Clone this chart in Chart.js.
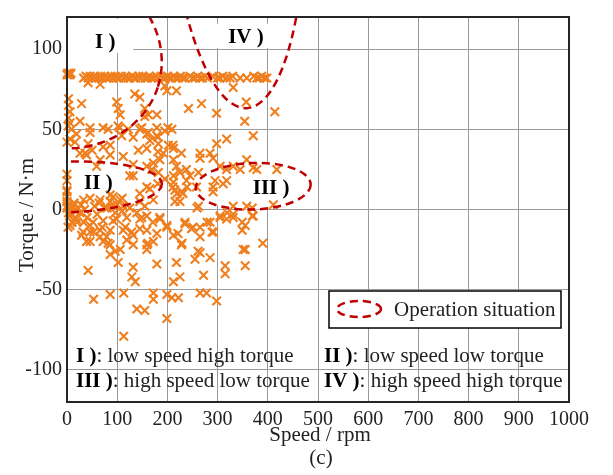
<!DOCTYPE html>
<html>
<head>
<meta charset="utf-8">
<script src="https://cdn.jsdelivr.net/npm/chart.js"></script>
<style>
  html, body { margin: 0; padding: 0; background: #fff; }
  #chart { display: block; }
</style>
</head>
<body>
<canvas id="chart" width="613" height="475"></canvas>
<script>
// Axis ticks
const speedTicks = [0, 100, 200, 300, 400, 500, 600, 700, 800, 900, 1000];
const torqueTicks = [-100, -50, 0, 50, 100];

// Measured points [speed rpm, torque N·m], split by band
const rowPoints = [
  [0, 84], [1, 85], [3, 84], [4, 85], [6, 84], [8, 85],
  [33, 82], [38, 83], [42, 82], [46, 83], [50, 82], [55, 83], [58, 82], [63, 82], [67, 83], [71, 82], [75, 83], [79, 82],
  [83, 82], [88, 83], [92, 82], [96, 83], [100, 82], [104, 82], [108, 83], [113, 82], [117, 83], [121, 82], [125, 82],
  [130, 83], [134, 82], [138, 82], [143, 83], [147, 82], [151, 83], [156, 82], [160, 82], [164, 83], [168, 82], [173, 82],
  [178, 83], [182, 82], [187, 83], [191, 82], [195, 82], [200, 83], [204, 82], [208, 82], [213, 83], [217, 82], [222, 82],
  [226, 83], [230, 82], [235, 82], [245, 83], [250, 82], [255, 82], [260, 83], [265, 82], [270, 82], [275, 83], [280, 82],
  [290, 83], [300, 82], [305, 82], [310, 83], [318, 82], [325, 82], [330, 83], [345, 82], [358, 82], [372, 83], [378, 82],
  [383, 82], [388, 83], [393, 82], [398, 82]
];
const upperPoints = [
  [42, 79], [66, 78], [195, 77], [199, 74], [218, 74], [331, 76], [135, 72], [145, 70], [3, 69], [3, 65], [29, 66],
  [99, 67], [102, 63], [106, 59], [268, 66], [357, 67], [242, 63], [298, 60], [414, 61], [354, 55], [155, 63], [162, 59],
  [179, 59], [155, 58], [6, 61], [3, 57], [6, 54], [26, 55], [9, 50], [2, 52], [19, 47], [46, 51], [46, 48], [72, 51],
  [82, 50], [102, 52], [105, 51], [109, 46], [122, 50], [132, 45], [145, 50], [149, 51], [159, 47], [162, 48], [179, 51],
  [181, 45], [195, 49], [201, 51], [209, 50], [179, 46], [182, 41], [165, 43], [202, 40], [211, 40], [371, 46], [318, 44],
  [298, 41], [0, 42], [6, 44], [16, 42], [42, 41], [26, 35], [36, 35], [39, 34], [50, 37], [72, 39], [86, 40], [86, 34],
  [112, 33], [142, 37], [159, 38], [181, 36], [192, 35], [212, 38], [228, 35], [265, 35], [285, 35], [265, 32], [291, 32],
  [66, 31], [59, 27], [132, 28], [159, 27], [172, 29], [185, 31], [169, 25], [182, 23], [212, 31], [218, 27], [225, 23],
  [212, 21], [238, 25], [245, 21], [262, 23], [305, 27], [318, 25], [331, 27], [345, 25], [358, 31], [371, 26], [378, 25],
  [418, 25], [132, 21], [125, 21], [195, 19], [0, 22]
];
const middlePoints = [
  [295, 18], [318, 18], [291, 14], [258, 14], [238, 18], [212, 17], [228, 11], [215, 12], [225, 5], [0, 18], [0, 12],
  [0, 11], [0, 8], [0, 5], [0, 2], [0, 1], [3, 3], [8, 0], [12, 2], [14, 4], [18, -1], [22, 1], [28, 3], [33, 6], [35, 0],
  [46, 7], [55, 2], [64, 4], [66, 6], [76, 1], [80, 1], [86, 9], [86, 5], [92, 8], [92, 3], [100, 3], [106, 6], [110, 7],
  [112, 2], [110, -1], [125, 1], [145, 10], [145, 5], [155, 2], [159, 14], [165, 13], [172, 6], [181, 16], [211, 14],
  [219, 10], [215, 5], [239, 14], [231, 10], [259, 1], [262, 2], [291, 11], [311, 16], [331, 2], [358, 2], [369, 1], [411, 3],
  [6, -2], [3, -2], [26, -2], [16, -5], [5, -4], [40, -5], [19, -6], [33, -8], [10, -8], [20, -8], [52, -8], [60, -3],
  [72, -7], [92, -7], [96, -2], [99, -6], [119, -5], [139, -2], [149, -5], [145, -6], [159, -4], [171, -8], [185, -5],
  [185, -6], [199, -10], [235, -8], [235, -9], [279, -8], [285, -8], [305, -4], [305, -5], [318, -6], [319, -2], [331, -3],
  [331, -5], [349, -8], [369, -4], [371, -4], [6, -10], [46, -10], [2, -11]
];
const lowerPoints = [
  [32, -14], [46, -14], [53, -14], [29, -16], [66, -13], [70, -11], [66, -17], [79, -17], [39, -20], [46, -20], [72, -20],
  [82, -21], [86, -13], [86, -22], [86, -28], [96, -26], [102, -33], [106, -25], [112, -13], [116, -11], [119, -19],
  [129, -14], [132, -16], [132, -22], [145, -12], [159, -13], [159, -22], [159, -25], [161, -21], [172, -20], [179, -15],
  [179, -34], [199, -11], [212, -16], [218, -33], [221, -15], [228, -22], [229, -21], [248, -12], [251, -11], [255, -31],
  [261, -26], [265, -11], [265, -17], [265, -27], [272, -41], [285, -30], [289, -14], [292, -14], [315, -35], [315, -40],
  [349, -13], [351, -25], [355, -10], [355, -25], [355, -35], [390, -21], [225, -42], [212, -45], [199, -53], [209, -55],
  [222, -55], [172, -52], [172, -56], [132, -36], [129, -42], [136, -45], [42, -38], [53, -56], [86, -53], [113, -52],
  [139, -62], [155, -63], [199, -68], [113, -79], [265, -52], [278, -52], [298, -57]
];

// Operation situation regions (centre, half-widths in data units, tilt in degrees)
const regions = [
  { name: 'I )', speed: -18, torque: 96.4, dSpeed: 209, dTorque: 57.6, tilt: 18, filled: false,
    labelAt: [56, 100.4], box: [0, 132, 97.6, 118.8] },
  { name: 'II )', speed: 0, torque: 14, dSpeed: 189, dTorque: 15.8, tilt: -2, filled: true,
    labelAt: [34, 12.7], box: null },
  { name: 'III )', speed: 371, torque: 14.5, dSpeed: 114.5, dTorque: 14.5, tilt: -2, filled: true,
    labelAt: [370, 9.7], box: null },
  { name: 'IV )', speed: 335, torque: 214.5, dSpeed: 139, dTorque: 151.5, tilt: -2.7, filled: false,
    labelAt: [321, 103.6], box: [275, 424, 100.6, 115.8] }
];

const notes = [
  ['I )', ': low speed high torque'],
  ['II )', ': low speed low torque'],
  ['III )', ': high speed low torque'],
  ['IV )', ': high speed high torque']
];

const serif = '"Liberation Serif", "Times New Roman", serif';
const markerColor = '#EF7F1E';
const ellipseColor = '#C00000';

function ellipsePath(ctx, chart, r) {
  const xs = chart.scales.x, ys = chart.scales.y;
  const cx = xs.getPixelForValue(r.speed);
  const cy = ys.getPixelForValue(r.torque);
  const rx = Math.abs(xs.getPixelForValue(r.speed + r.dSpeed) - cx);
  const ry = Math.abs(ys.getPixelForValue(r.torque + r.dTorque) - cy);
  ctx.beginPath();
  ctx.ellipse(cx, cy, rx, ry, r.tilt * Math.PI / 180, 0, Math.PI * 2);
}

const regionPlugin = {
  id: 'regions',
  beforeDatasetsDraw(chart) {
    const { ctx, chartArea: a, scales: { x, y } } = chart;
    ctx.save();
    ctx.beginPath();
    ctx.rect(a.left, a.top, a.right - a.left, a.bottom - a.top);
    ctx.clip();
    ctx.fillStyle = '#fff';
    regions.forEach(r => {
      if (r.filled) {
        ellipsePath(ctx, chart, r);
        ctx.fill();
      }
      if (r.box) {
        const x0 = x.getPixelForValue(r.box[0]), x1 = x.getPixelForValue(r.box[1]);
        const y0 = y.getPixelForValue(r.box[3]), y1 = y.getPixelForValue(r.box[2]);
        ctx.fillRect(x0, y0, x1 - x0, y1 - y0);
      }
    });
    ctx.restore();
  },
  afterDatasetsDraw(chart) {
    const { ctx, chartArea: a, scales: { x, y } } = chart;

    // dashed ellipses
    ctx.save();
    ctx.beginPath();
    ctx.rect(a.left, a.top, a.right - a.left, a.bottom - a.top);
    ctx.clip();
    ctx.strokeStyle = ellipseColor;
    ctx.lineWidth = 2.5;
    ctx.setLineDash([8, 5]);
    regions.forEach(r => {
      ellipsePath(ctx, chart, r);
      ctx.stroke();
    });
    ctx.restore();

    // region labels
    ctx.save();
    ctx.fillStyle = '#000';
    ctx.textBaseline = 'alphabetic';
    ctx.font = 'bold 21px ' + serif;
    regions.forEach(r => {
      ctx.fillText(r.name, x.getPixelForValue(r.labelAt[0]), y.getPixelForValue(r.labelAt[1]));
    });

    // notes at the bottom of the plot
    const noteX = [a.left + 9, a.left + 257];
    const noteY = [362, 387];
    notes.forEach((n, i) => {
      let px = noteX[i % 2];
      const py = noteY[Math.floor(i / 2)];
      ctx.font = 'bold 21px ' + serif;
      ctx.fillText(n[0], px, py);
      px += ctx.measureText(n[0]).width;
      ctx.font = '21px ' + serif;
      ctx.fillStyle = '#222';
      ctx.fillText(n[1], px, py);
      ctx.fillStyle = '#000';
    });

    // legend box
    ctx.fillStyle = '#fff';
    ctx.fillRect(329, 291, 232, 37);
    ctx.strokeStyle = '#000';
    ctx.lineWidth = 1.5;
    ctx.strokeRect(329, 291, 232, 37);
    ctx.strokeStyle = ellipseColor;
    ctx.lineWidth = 2.5;
    ctx.setLineDash([8, 5]);
    ctx.beginPath();
    ctx.ellipse(359, 309, 22, 8, 0, 0, Math.PI * 2);
    ctx.stroke();
    ctx.setLineDash([]);
    ctx.fillStyle = '#222';
    ctx.font = '21px ' + serif;
    ctx.fillText('Operation situation', 394, 316);
    ctx.restore();
  },
  afterDraw(chart) {
    const { ctx, chartArea: a } = chart;
    ctx.save();
    // plot frame
    ctx.strokeStyle = '#262626';
    ctx.lineWidth = 2;
    ctx.strokeRect(a.left, a.top, a.right - a.left, a.bottom - a.top);
    // axis titles
    ctx.fillStyle = '#222';
    ctx.font = '21px ' + serif;
    ctx.textAlign = 'center';
    ctx.textBaseline = 'alphabetic';
    ctx.fillText('Speed / rpm', (a.left + a.right) / 2 + 2, 441);
    ctx.fillText('(c)', (a.left + a.right) / 2 + 3, 464);
    ctx.translate(33, 215);
    ctx.rotate(-Math.PI / 2);
    ctx.fillText('Torque / N·m', 0, 0);
    ctx.restore();
  }
};

const points = [...rowPoints, ...upperPoints, ...middlePoints, ...lowerPoints]
  .map(([s, t]) => ({ x: s, y: t }));

new Chart(document.getElementById('chart'), {
  type: 'scatter',
  data: {
    datasets: [{
      label: 'Measured',
      data: points,
      pointStyle: 'crossRot',
      pointRadius: 6,
      pointBorderWidth: 2.1,
      borderColor: markerColor,
      backgroundColor: markerColor,
      clip: false
    }]
  },
  options: {
    responsive: false,
    animation: false,
    devicePixelRatio: 1,
    layout: { padding: { top: 6, right: 44, left: 0, bottom: 0 } },
    plugins: {
      legend: { display: false },
      tooltip: { enabled: false }
    },
    scales: {
      x: {
        type: 'linear',
        min: 0,
        max: 1000,
        afterBuildTicks: scale => { scale.ticks = speedTicks.map(v => ({ value: v })); },
        afterFit: scale => { scale.height = 73; },
        grid: { color: '#9a9a9a', lineWidth: 1, drawTicks: false },
        border: { display: false },
        ticks: {
          font: { family: serif, size: 20 }, color: '#222', padding: 6, maxRotation: 0,
          callback: v => String(v)
        }
      },
      y: {
        type: 'linear',
        min: -120,
        max: 120,
        afterBuildTicks: scale => { scale.ticks = torqueTicks.map(v => ({ value: v })); },
        afterFit: scale => { scale.width = 67; },
        grid: { color: '#9a9a9a', lineWidth: 1, drawTicks: false },
        border: { display: false },
        ticks: {
          font: { family: serif, size: 20 }, color: '#222', padding: 5,
          callback: v => String(v)
        }
      }
    }
  },
  plugins: [regionPlugin]
});
</script>
</body>
</html>
